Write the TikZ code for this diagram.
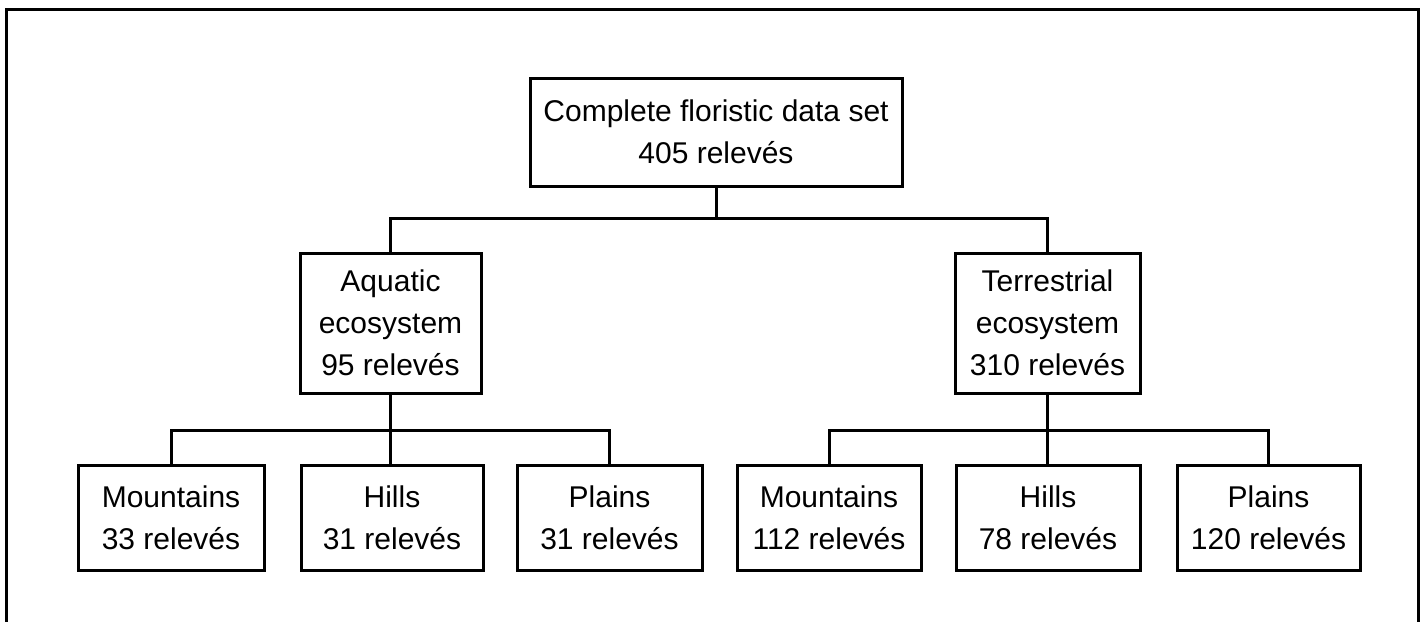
\documentclass[tikz,border=0pt]{standalone}
\usepackage{fontspec}
\setmainfont{Liberation Sans}
\begin{document}
\begin{tikzpicture}[x=1pt,y=-1pt,
  box/.style={draw=black, line width=3pt, align=center, inner sep=0pt,
              font=\fontsize{30}{42}\selectfont},
  link/.style={draw=black, line width=3pt}]
\useasboundingbox (0,0) rectangle (1426,621);
% outer frame (its lower edge lies below the page)
\draw[line width=3pt] (6,640) -- (6,9) -- (1418,9) -- (1418,640);

% root
\node[box, minimum width=372pt, minimum height=108pt] (top) at (716,132)
  {Complete floristic data set\\405 relevés};

% ecosystems
\node[box, minimum width=181pt, minimum height=140pt] (aq) at (390.5,323)
  {Aquatic\\ecosystem\\95 relevés};
\node[box, minimum width=185pt, minimum height=140pt] (te) at (1047.5,323)
  {Terrestrial\\ecosystem\\310 relevés};

% relief classes
\node[box, minimum width=186pt, minimum height=105pt] (am) at (171,517.5)
  {Mountains\\33 relevés};
\node[box, minimum width=182pt, minimum height=105pt] (ah) at (392,517.5)
  {Hills\\31 relevés};
\node[box, minimum width=185pt, minimum height=105pt] (ap) at (609.5,517.5)
  {Plains\\31 relevés};
\node[box, minimum width=184pt, minimum height=105pt] (tm) at (829,517.5)
  {Mountains\\112 relevés};
\node[box, minimum width=184pt, minimum height=105pt] (th) at (1048,517.5)
  {Hills\\78 relevés};
\node[box, minimum width=183pt, minimum height=105pt] (tp) at (1268.5,517.5)
  {Plains\\120 relevés};

% connector bars
\coordinate (bar0) at (0,218);
\coordinate (bar1) at (0,430);

\draw[link] (top.south) -- (top.south |- bar0);
\draw[link] (aq.north) -- (aq.north |- bar0) -- (te.north |- bar0) -- (te.north);

\draw[link] (aq.south) -- (aq.south |- ah.north);
\draw[link] (am.north) -- (am.north |- bar1) -- (ap.north |- bar1) -- (ap.north);

\draw[link] (te.south) -- (te.south |- th.north);
\draw[link] (tm.north) -- (tm.north |- bar1) -- (tp.north |- bar1) -- (tp.north);
\end{tikzpicture}
\end{document}
